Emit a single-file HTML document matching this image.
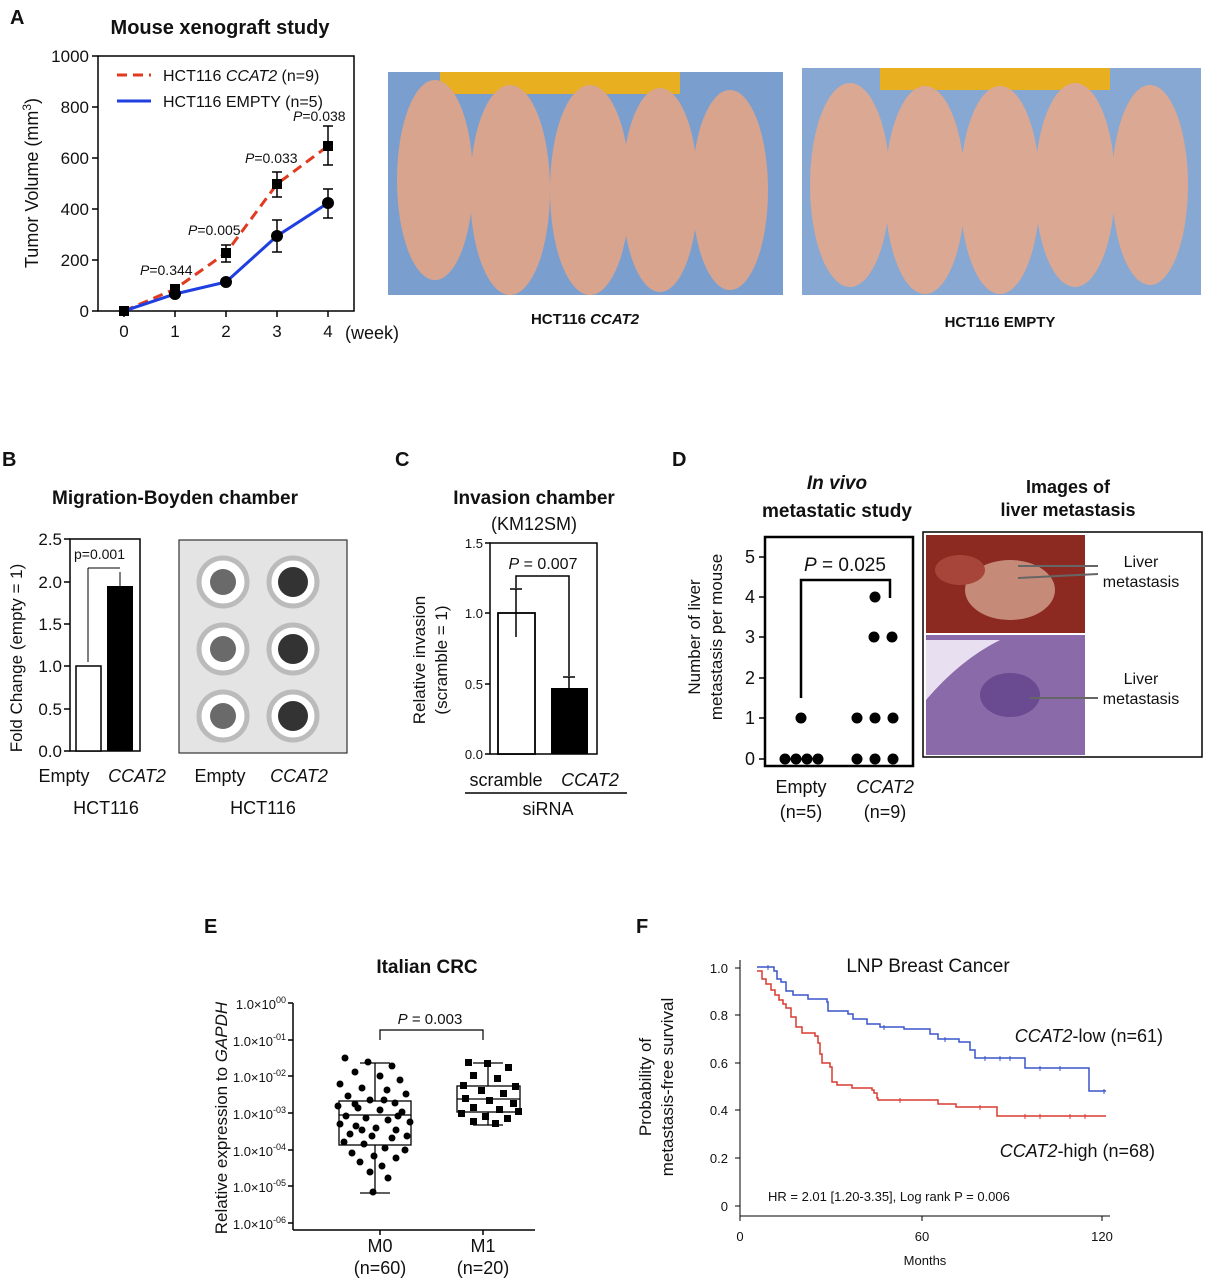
<!DOCTYPE html>
<html><head><meta charset="utf-8"><style>
html,body{margin:0;padding:0;background:#fff}
svg{display:block}
text{font-family:"Liberation Sans",Arial,sans-serif;fill:#111}
</style></head><body>
<svg width="1206" height="1280" viewBox="0 0 1206 1280" xmlns="http://www.w3.org/2000/svg">
<!-- ===== Panel A ===== -->
<text x="10" y="24" font-size="20" font-weight="bold">A</text>
<text x="220" y="34" font-size="20" font-weight="bold" text-anchor="middle">Mouse xenograft study</text>
<g stroke="#000" stroke-width="1.5" fill="none">
<rect x="98" y="56" width="256" height="255"/>
<line x1="92" y1="56" x2="98" y2="56"/><line x1="92" y1="107" x2="98" y2="107"/><line x1="92" y1="158" x2="98" y2="158"/><line x1="92" y1="209" x2="98" y2="209"/><line x1="92" y1="260" x2="98" y2="260"/><line x1="92" y1="311" x2="98" y2="311"/>
<line x1="124" y1="311" x2="124" y2="317"/><line x1="175" y1="311" x2="175" y2="317"/><line x1="226" y1="311" x2="226" y2="317"/><line x1="277" y1="311" x2="277" y2="317"/><line x1="328" y1="311" x2="328" y2="317"/>
</g>
<g font-size="17" text-anchor="end">
<text x="89" y="62">1000</text><text x="89" y="113">800</text><text x="89" y="164">600</text><text x="89" y="215">400</text><text x="89" y="266">200</text><text x="89" y="317">0</text>
</g>
<g font-size="17" text-anchor="middle">
<text x="124" y="337">0</text><text x="175" y="337">1</text><text x="226" y="337">2</text><text x="277" y="337">3</text><text x="328" y="337">4</text>
</g>
<text x="345" y="339" font-size="18">(week)</text>
<text transform="translate(38,183) rotate(-90)" font-size="18" text-anchor="middle">Tumor Volume (mm<tspan font-size="12" dy="-7">3</tspan><tspan dy="7">)</tspan></text>
<polyline points="124,311 175,289 226,253 277,184 328,146" fill="none" stroke="#e03a20" stroke-width="3" stroke-dasharray="10,6"/>
<polyline points="124,311 175,294 226,282 277,236 328,203" fill="none" stroke="#1f3fe0" stroke-width="3"/>
<g stroke="#000" stroke-width="1.5">
<line x1="277" y1="172" x2="277" y2="197"/><line x1="272" y1="172" x2="282" y2="172"/><line x1="272" y1="197" x2="282" y2="197"/>
<line x1="328" y1="126" x2="328" y2="165"/><line x1="323" y1="126" x2="333" y2="126"/><line x1="323" y1="165" x2="333" y2="165"/>
<line x1="226" y1="245" x2="226" y2="262"/><line x1="221" y1="245" x2="231" y2="245"/><line x1="221" y1="262" x2="231" y2="262"/>
<line x1="277" y1="220" x2="277" y2="252"/><line x1="272" y1="220" x2="282" y2="220"/><line x1="272" y1="252" x2="282" y2="252"/>
<line x1="328" y1="189" x2="328" y2="218"/><line x1="323" y1="189" x2="333" y2="189"/><line x1="323" y1="218" x2="333" y2="218"/>
</g>
<g fill="#000">
<rect x="119" y="306" width="10" height="10"/><rect x="170" y="284" width="10" height="10"/><rect x="221" y="248" width="10" height="10"/><rect x="272" y="179" width="10" height="10"/><rect x="323" y="141" width="10" height="10"/>
<circle cx="175" cy="294" r="6"/><circle cx="226" cy="282" r="6"/><circle cx="277" cy="236" r="6"/><circle cx="328" cy="203" r="6"/>
</g>
<line x1="117" y1="75" x2="151" y2="75" stroke="#e03a20" stroke-width="3" stroke-dasharray="10,6"/>
<line x1="117" y1="101" x2="151" y2="101" stroke="#1f3fe0" stroke-width="3"/>
<text x="163" y="81" font-size="16">HCT116 <tspan font-style="italic">CCAT2</tspan> (n=9)</text>
<text x="163" y="107" font-size="16">HCT116 EMPTY (n=5)</text>
<g font-size="14">
<text x="140" y="275"><tspan font-style="italic">P</tspan>=0.344</text>
<text x="188" y="235"><tspan font-style="italic">P</tspan>=0.005</text>
<text x="245" y="163"><tspan font-style="italic">P</tspan>=0.033</text>
<text x="293" y="121"><tspan font-style="italic">P</tspan>=0.038</text>
</g>
<!-- photos -->
<rect x="388" y="72" width="395" height="223" fill="#7a9fcf"/>
<rect x="440" y="72" width="240" height="22" fill="#e8b020"/>
<g fill="#d9a48e">
<ellipse cx="435" cy="180" rx="38" ry="100"/><ellipse cx="510" cy="190" rx="40" ry="105"/><ellipse cx="590" cy="190" rx="40" ry="105"/><ellipse cx="660" cy="190" rx="38" ry="102"/><ellipse cx="730" cy="190" rx="38" ry="100"/>
</g>
<rect x="802" y="68" width="399" height="227" fill="#86a8d2"/>
<rect x="880" y="68" width="230" height="22" fill="#e8b020"/>
<g fill="#dba893">
<ellipse cx="850" cy="185" rx="40" ry="102"/><ellipse cx="925" cy="190" rx="40" ry="104"/><ellipse cx="1000" cy="190" rx="40" ry="104"/><ellipse cx="1075" cy="185" rx="40" ry="102"/><ellipse cx="1150" cy="185" rx="38" ry="100"/>
</g>
<text x="585" y="324" font-size="15" font-weight="bold" text-anchor="middle">HCT116 <tspan font-style="italic">CCAT2</tspan></text>
<text x="1000" y="327" font-size="15" font-weight="bold" text-anchor="middle">HCT116 EMPTY</text>

<!-- ===== Panel B ===== -->
<text x="2" y="466" font-size="20" font-weight="bold">B</text>
<text x="175" y="504" font-size="19" font-weight="bold" text-anchor="middle">Migration-Boyden chamber</text>
<g stroke="#000" stroke-width="1.5" fill="none">
<rect x="70" y="539" width="70" height="212"/>
<line x1="64" y1="539" x2="70" y2="539"/><line x1="64" y1="582" x2="70" y2="582"/><line x1="64" y1="624" x2="70" y2="624"/><line x1="64" y1="666" x2="70" y2="666"/><line x1="64" y1="709" x2="70" y2="709"/><line x1="64" y1="751" x2="70" y2="751"/>
</g>
<g font-size="17" text-anchor="end">
<text x="62" y="545">2.5</text><text x="62" y="588">2.0</text><text x="62" y="630">1.5</text><text x="62" y="672">1.0</text><text x="62" y="715">0.5</text><text x="62" y="757">0.0</text>
</g>
<text transform="translate(22,658) rotate(-90)" font-size="17" text-anchor="middle">Fold Change (empty = 1)</text>
<rect x="76" y="666" width="25" height="85" fill="#fff" stroke="#000" stroke-width="1.5"/>
<rect x="107" y="586" width="26" height="165" fill="#000"/>
<g stroke="#000" stroke-width="1"><line x1="120" y1="572" x2="120" y2="600"/><line x1="88" y1="568" x2="120" y2="568"/><line x1="88" y1="568" x2="88" y2="662"/></g>
<text x="74" y="559" font-size="14">p=0.001</text>
<text x="64" y="782" font-size="18" text-anchor="middle">Empty</text>
<text x="137" y="782" font-size="18" text-anchor="middle" font-style="italic">CCAT2</text>
<text x="106" y="814" font-size="18" text-anchor="middle">HCT116</text>
<rect x="179" y="540" width="168" height="213" fill="#e4e4e4" stroke="#333" stroke-width="1.2"/>
<g stroke="#bbb" stroke-width="5" fill="#fff">
<circle cx="223" cy="582" r="24"/><circle cx="293" cy="582" r="24"/><circle cx="223" cy="649" r="24"/><circle cx="293" cy="649" r="24"/><circle cx="223" cy="716" r="24"/><circle cx="293" cy="716" r="24"/>
</g>
<g fill="#6a6a6a"><circle cx="223" cy="582" r="13"/><circle cx="223" cy="649" r="13"/><circle cx="223" cy="716" r="13"/></g>
<g fill="#333"><circle cx="293" cy="582" r="15"/><circle cx="293" cy="649" r="15"/><circle cx="293" cy="716" r="15"/></g>
<text x="220" y="782" font-size="18" text-anchor="middle">Empty</text>
<text x="299" y="782" font-size="18" text-anchor="middle" font-style="italic">CCAT2</text>
<text x="263" y="814" font-size="18" text-anchor="middle">HCT116</text>

<!-- ===== Panel C ===== -->
<text x="395" y="466" font-size="20" font-weight="bold">C</text>
<text x="534" y="504" font-size="19" font-weight="bold" text-anchor="middle">Invasion chamber</text>
<text x="534" y="530" font-size="18" text-anchor="middle">(KM12SM)</text>
<g stroke="#000" stroke-width="1.5" fill="none">
<rect x="490" y="543" width="107" height="211"/>
<line x1="485" y1="543" x2="490" y2="543"/><line x1="485" y1="613" x2="490" y2="613"/><line x1="485" y1="684" x2="490" y2="684"/><line x1="485" y1="754" x2="490" y2="754"/>
</g>
<g font-size="13" text-anchor="end"><text x="483" y="548">1.5</text><text x="483" y="618">1.0</text><text x="483" y="689">0.5</text><text x="483" y="759">0.0</text></g>
<text transform="translate(425,660) rotate(-90)" font-size="17" text-anchor="middle">Relative invasion</text>
<text transform="translate(447,660) rotate(-90)" font-size="17" text-anchor="middle">(scramble = 1)</text>
<rect x="498" y="613" width="37" height="141" fill="#fff" stroke="#000" stroke-width="1.8"/>
<rect x="551" y="688" width="37" height="66" fill="#000"/>
<g stroke="#000" stroke-width="1.5"><line x1="516" y1="589" x2="516" y2="637"/><line x1="510" y1="589" x2="522" y2="589"/><line x1="569" y1="677" x2="569" y2="699"/><line x1="563" y1="677" x2="575" y2="677"/>
<polyline points="516,588 516,576 569,576 569,676" fill="none"/></g>
<text x="543" y="569" font-size="16" text-anchor="middle"><tspan font-style="italic">P</tspan> = 0.007</text>
<text x="506" y="786" font-size="18" text-anchor="middle">scramble</text>
<text x="590" y="786" font-size="18" text-anchor="middle" font-style="italic">CCAT2</text>
<line x1="465" y1="793" x2="627" y2="793" stroke="#000" stroke-width="1.5"/>
<text x="548" y="815" font-size="18" text-anchor="middle">siRNA</text>

<!-- ===== Panel D ===== -->
<text x="672" y="466" font-size="20" font-weight="bold">D</text>
<text x="837" y="489" font-size="19" font-weight="bold" font-style="italic" text-anchor="middle">In vivo</text>
<text x="837" y="517" font-size="19" font-weight="bold" text-anchor="middle">metastatic study</text>
<rect x="765" y="537" width="148" height="229" fill="none" stroke="#000" stroke-width="2.5"/>
<g stroke="#000" stroke-width="1.5"><line x1="759" y1="759" x2="765" y2="759"/><line x1="759" y1="718" x2="765" y2="718"/><line x1="759" y1="678" x2="765" y2="678"/><line x1="759" y1="637" x2="765" y2="637"/><line x1="759" y1="597" x2="765" y2="597"/><line x1="759" y1="557" x2="765" y2="557"/></g>
<g font-size="18" text-anchor="end"><text x="755" y="765">0</text><text x="755" y="724">1</text><text x="755" y="684">2</text><text x="755" y="643">3</text><text x="755" y="603">4</text><text x="755" y="563">5</text></g>
<text transform="translate(700,637) rotate(-90)" font-size="17" text-anchor="middle">Number of liver</text>
<text transform="translate(722,637) rotate(-90)" font-size="17" text-anchor="middle">metastasis per mouse</text>
<polyline points="801,698 801,580 890,580 890,598" fill="none" stroke="#000" stroke-width="2.5"/>
<text x="845" y="571" font-size="19" text-anchor="middle"><tspan font-style="italic">P</tspan> = 0.025</text>
<g fill="#000">
<circle cx="801" cy="718" r="5.5"/><circle cx="785" cy="759" r="5.5"/><circle cx="796" cy="759" r="5.5"/><circle cx="807" cy="759" r="5.5"/><circle cx="818" cy="759" r="5.5"/>
<circle cx="875" cy="597" r="5.5"/><circle cx="874" cy="637" r="5.5"/><circle cx="892" cy="637" r="5.5"/>
<circle cx="857" cy="718" r="5.5"/><circle cx="875" cy="718" r="5.5"/><circle cx="893" cy="718" r="5.5"/>
<circle cx="857" cy="759" r="5.5"/><circle cx="875" cy="759" r="5.5"/><circle cx="893" cy="759" r="5.5"/>
</g>
<text x="801" y="793" font-size="18" text-anchor="middle">Empty</text><text x="801" y="818" font-size="18" text-anchor="middle">(n=5)</text>
<text x="885" y="793" font-size="18" text-anchor="middle" font-style="italic">CCAT2</text><text x="885" y="818" font-size="18" text-anchor="middle">(n=9)</text>
<text x="1068" y="493" font-size="18" font-weight="bold" text-anchor="middle">Images of</text>
<text x="1068" y="516" font-size="18" font-weight="bold" text-anchor="middle">liver metastasis</text>
<rect x="923" y="532" width="279" height="225" fill="#fff" stroke="#000" stroke-width="1.5"/>
<rect x="926" y="535" width="159" height="98" fill="#8c2a22"/>
<ellipse cx="1010" cy="590" rx="45" ry="30" fill="#c68a78"/>
<ellipse cx="960" cy="570" rx="25" ry="15" fill="#a8453a"/>
<rect x="926" y="635" width="159" height="120" fill="#8a6aa8"/>
<path d="M926,700 Q960,660 1000,640 L926,640 Z" fill="#e8dff0"/>
<ellipse cx="1010" cy="695" rx="30" ry="22" fill="#6a4a90"/>
<g stroke="#666" stroke-width="2"><line x1="1018" y1="566" x2="1098" y2="566"/><line x1="1018" y1="578" x2="1098" y2="574"/><line x1="1030" y1="698" x2="1098" y2="698"/></g>
<g font-size="16" text-anchor="middle"><text x="1141" y="567">Liver</text><text x="1141" y="587">metastasis</text><text x="1141" y="684">Liver</text><text x="1141" y="704">metastasis</text></g>

<!-- ===== Panel E ===== -->
<text x="204" y="933" font-size="20" font-weight="bold">E</text>
<text x="427" y="973" font-size="19" font-weight="bold" text-anchor="middle">Italian CRC</text>
<g stroke="#000" stroke-width="1.5">
<line x1="293" y1="1003" x2="293" y2="1230"/><line x1="293" y1="1230" x2="535" y2="1230"/>
<line x1="288" y1="1003" x2="293" y2="1003"/><line x1="288" y1="1040" x2="293" y2="1040"/><line x1="288" y1="1076" x2="293" y2="1076"/><line x1="288" y1="1113" x2="293" y2="1113"/><line x1="288" y1="1150" x2="293" y2="1150"/><line x1="288" y1="1186" x2="293" y2="1186"/><line x1="288" y1="1223" x2="293" y2="1223"/>
<line x1="380" y1="1230" x2="380" y2="1235"/><line x1="483" y1="1230" x2="483" y2="1235"/>
</g>
<g font-size="13" text-anchor="end">
<text x="286" y="1009">1.0×10<tspan font-size="9" dy="-6">00</tspan></text>
<text x="286" y="1046">1.0×10<tspan font-size="9" dy="-6">-01</tspan></text>
<text x="286" y="1082">1.0×10<tspan font-size="9" dy="-6">-02</tspan></text>
<text x="286" y="1119">1.0×10<tspan font-size="9" dy="-6">-03</tspan></text>
<text x="286" y="1156">1.0×10<tspan font-size="9" dy="-6">-04</tspan></text>
<text x="286" y="1192">1.0×10<tspan font-size="9" dy="-6">-05</tspan></text>
<text x="286" y="1229">1.0×10<tspan font-size="9" dy="-6">-06</tspan></text>
</g>
<text transform="translate(227,1118) rotate(-90)" font-size="17" text-anchor="middle">Relative expression to <tspan font-style="italic">GAPDH</tspan></text>
<polyline points="380,1040 380,1030 483,1030 483,1040" fill="none" stroke="#000" stroke-width="1.2"/>
<text x="430" y="1024" font-size="15" text-anchor="middle"><tspan font-style="italic">P</tspan> = 0.003</text>
<g stroke="#000" stroke-width="1.3" fill="none">
<rect x="339" y="1101" width="72" height="44"/><line x1="339" y1="1115" x2="411" y2="1115"/>
<line x1="375" y1="1063" x2="375" y2="1101"/><line x1="375" y1="1145" x2="375" y2="1193"/><line x1="360" y1="1063" x2="390" y2="1063"/><line x1="360" y1="1193" x2="390" y2="1193"/>
<rect x="457" y="1086" width="63" height="26"/><line x1="457" y1="1099" x2="520" y2="1099"/>
<line x1="488" y1="1063" x2="488" y2="1086"/><line x1="488" y1="1112" x2="488" y2="1125"/><line x1="473" y1="1063" x2="503" y2="1063"/><line x1="473" y1="1125" x2="503" y2="1125"/>
</g>
<g fill="#000">
<circle cx="345" cy="1058" r="3.5"/><circle cx="368" cy="1062" r="3.5"/><circle cx="392" cy="1066" r="3.5"/><circle cx="355" cy="1072" r="3.5"/><circle cx="380" cy="1076" r="3.5"/><circle cx="400" cy="1080" r="3.5"/><circle cx="340" cy="1084" r="3.5"/><circle cx="362" cy="1088" r="3.5"/><circle cx="387" cy="1090" r="3.5"/><circle cx="406" cy="1094" r="3.5"/>
<circle cx="348" cy="1096" r="3.5"/><circle cx="370" cy="1100" r="3.5"/><circle cx="395" cy="1103" r="3.5"/><circle cx="338" cy="1106" r="3.5"/><circle cx="358" cy="1108" r="3.5"/><circle cx="380" cy="1110" r="3.5"/><circle cx="402" cy="1112" r="3.5"/><circle cx="346" cy="1116" r="3.5"/><circle cx="366" cy="1118" r="3.5"/><circle cx="388" cy="1120" r="3.5"/>
<circle cx="410" cy="1122" r="3.5"/><circle cx="340" cy="1124" r="3.5"/><circle cx="356" cy="1126" r="3.5"/><circle cx="376" cy="1128" r="3.5"/><circle cx="396" cy="1130" r="3.5"/><circle cx="350" cy="1134" r="3.5"/><circle cx="372" cy="1136" r="3.5"/><circle cx="392" cy="1138" r="3.5"/><circle cx="344" cy="1142" r="3.5"/><circle cx="364" cy="1144" r="3.5"/>
<circle cx="385" cy="1148" r="3.5"/><circle cx="405" cy="1150" r="3.5"/><circle cx="352" cy="1153" r="3.5"/><circle cx="374" cy="1156" r="3.5"/><circle cx="396" cy="1158" r="3.5"/><circle cx="360" cy="1162" r="3.5"/><circle cx="382" cy="1166" r="3.5"/><circle cx="370" cy="1172" r="3.5"/><circle cx="388" cy="1178" r="3.5"/><circle cx="373" cy="1192" r="3.5"/>
<circle cx="355" cy="1104" r="3.5"/><circle cx="398" cy="1116" r="3.5"/><circle cx="362" cy="1130" r="3.5"/><circle cx="384" cy="1100" r="3.5"/><circle cx="407" cy="1136" r="3.5"/>
</g>
<g fill="#000">
<rect x="465" y="1059" width="7" height="7"/><rect x="484" y="1060" width="7" height="7"/><rect x="505" y="1064" width="7" height="7"/><rect x="470" y="1072" width="7" height="7"/><rect x="494" y="1075" width="7" height="7"/><rect x="460" y="1082" width="7" height="7"/><rect x="512" y="1083" width="7" height="7"/><rect x="478" y="1087" width="7" height="7"/><rect x="500" y="1090" width="7" height="7"/><rect x="462" y="1095" width="7" height="7"/>
<rect x="486" y="1097" width="7" height="7"/><rect x="510" y="1100" width="7" height="7"/><rect x="470" y="1104" width="7" height="7"/><rect x="496" y="1106" width="7" height="7"/><rect x="458" y="1110" width="7" height="7"/><rect x="482" y="1113" width="7" height="7"/><rect x="504" y="1115" width="7" height="7"/><rect x="470" y="1118" width="7" height="7"/><rect x="492" y="1120" width="7" height="7"/><rect x="515" y="1108" width="7" height="7"/>
</g>
<text x="380" y="1252" font-size="18" text-anchor="middle">M0</text><text x="380" y="1274" font-size="18" text-anchor="middle">(n=60)</text>
<text x="483" y="1252" font-size="18" text-anchor="middle">M1</text><text x="483" y="1274" font-size="18" text-anchor="middle">(n=20)</text>

<!-- ===== Panel F ===== -->
<text x="636" y="933" font-size="20" font-weight="bold">F</text>
<text x="928" y="972" font-size="19" text-anchor="middle">LNP Breast Cancer</text>
<g stroke="#000" stroke-width="1">
<line x1="740" y1="960" x2="740" y2="1216"/><line x1="740" y1="1216" x2="1110" y2="1216"/>
<line x1="735" y1="968" x2="740" y2="968"/><line x1="735" y1="1015" x2="740" y2="1015"/><line x1="735" y1="1063" x2="740" y2="1063"/><line x1="735" y1="1110" x2="740" y2="1110"/><line x1="735" y1="1158" x2="740" y2="1158"/><line x1="735" y1="1206" x2="740" y2="1206"/>
<line x1="740" y1="1216" x2="740" y2="1221"/><line x1="922" y1="1216" x2="922" y2="1221"/><line x1="1102" y1="1216" x2="1102" y2="1221"/>
</g>
<g font-size="13" text-anchor="end"><text x="728" y="973">1.0</text><text x="728" y="1020">0.8</text><text x="728" y="1068">0.6</text><text x="728" y="1115">0.4</text><text x="728" y="1163">0.2</text><text x="728" y="1211">0</text></g>
<g font-size="13" text-anchor="middle"><text x="740" y="1241">0</text><text x="922" y="1241">60</text><text x="1102" y="1241">120</text></g>
<text x="925" y="1265" font-size="13" text-anchor="middle">Months</text>
<text transform="translate(651,1087) rotate(-90)" font-size="17" text-anchor="middle">Probability of</text>
<text transform="translate(673,1087) rotate(-90)" font-size="17" text-anchor="middle">metastasis-free survival</text>
<path d="M757,967 H774 V971 H777 V979 H781 V982 H786 V991 H793 V995 H808 V999 H827 V1002 H828 V1011 H848 V1014 H853 V1019 H867 V1024 H880 V1027 H904 V1029 H930 V1034 H938 V1039 H959 V1042 H970 V1050 H975 V1058 H1025 V1068 H1089 V1091 H1106" fill="none" stroke="#3a55c8" stroke-width="1.5"/>
<path d="M757,971 H762 V979 H766 V984 H771 V990 H775 V995 H779 V1000 H783 V1004 H786 V1008 H791 V1017 H796 V1027 H802 V1033 H815 V1036 H818 V1043 H820 V1054 H822 V1063 H830 V1067 H832 V1082 H837 V1085 H852 V1088 H872 V1090 H874 V1093 H877 V1098 H878 V1100 H938 V1104 H956 V1107 H997 V1116 H1106" fill="none" stroke="#d83a30" stroke-width="1.5"/>
<g stroke="#3a55c8" stroke-width="1"><line x1="768" y1="965" x2="768" y2="970"/><line x1="884" y1="1025" x2="884" y2="1030"/><line x1="945" y1="1037" x2="945" y2="1042"/><line x1="985" y1="1056" x2="985" y2="1061"/><line x1="1000" y1="1056" x2="1000" y2="1061"/><line x1="1010" y1="1056" x2="1010" y2="1061"/><line x1="1040" y1="1066" x2="1040" y2="1071"/><line x1="1060" y1="1066" x2="1060" y2="1071"/><line x1="1104" y1="1089" x2="1104" y2="1094"/></g>
<g stroke="#d83a30" stroke-width="1"><line x1="900" y1="1098" x2="900" y2="1103"/><line x1="980" y1="1105" x2="980" y2="1110"/><line x1="1025" y1="1114" x2="1025" y2="1119"/><line x1="1040" y1="1114" x2="1040" y2="1119"/><line x1="1070" y1="1114" x2="1070" y2="1119"/><line x1="1085" y1="1114" x2="1085" y2="1119"/></g>
<text x="1163" y="1042" font-size="18" text-anchor="end"><tspan font-style="italic">CCAT2</tspan>-low (n=61)</text>
<text x="1155" y="1157" font-size="18" text-anchor="end"><tspan font-style="italic">CCAT2</tspan>-high (n=68)</text>
<text x="768" y="1201" font-size="13">HR = 2.01 [1.20-3.35], Log rank P = 0.006</text>
</svg>
</body></html>
